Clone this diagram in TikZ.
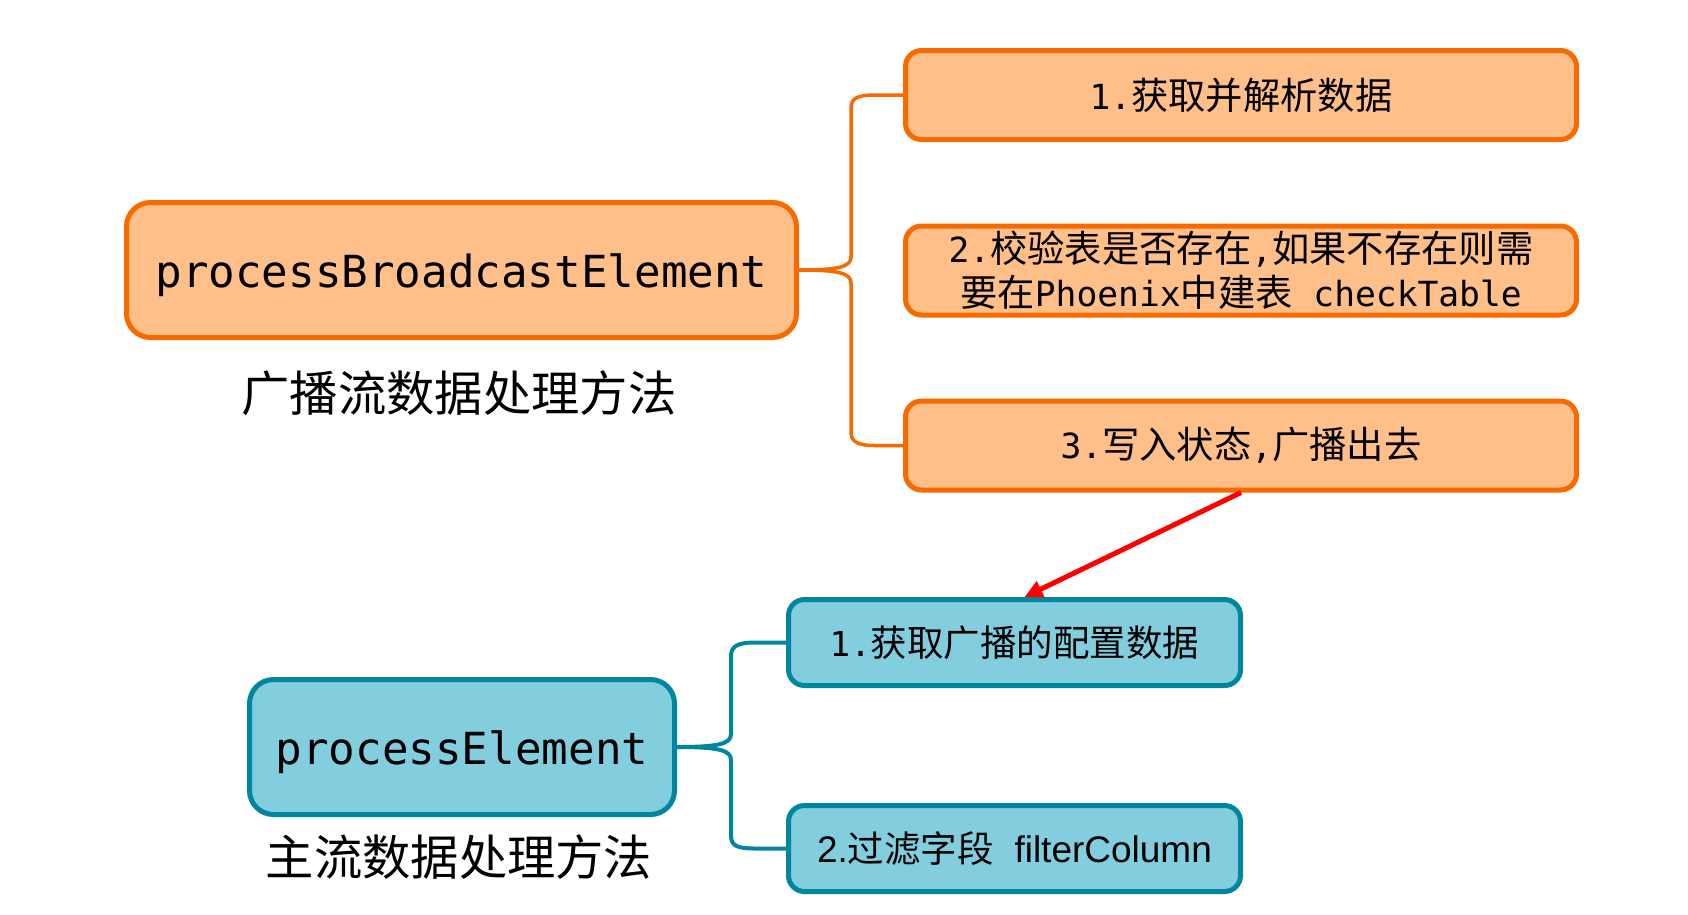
\documentclass[tikz,border=0pt]{standalone}
\usepackage{fontspec}
\setmonofont{DejaVu Sans Mono}
\newfontfamily\cjkfont{Noto Sans CJK SC}
\newfontfamily\arialfont{Liberation Sans}
\usetikzlibrary{arrows.meta,calc}
\definecolor{ofill}{RGB}{255,191,137}
\definecolor{oline}{RGB}{247,106,0}
\definecolor{bfill}{RGB}{130,206,222}
\definecolor{bline}{RGB}{0,134,158}
\definecolor{arrred}{RGB}{255,0,0}
\newcommand\zh[1]{{\fontsize{37.3}{44}\selectfont\cjkfont #1}}
\newcommand\zhb[1]{{\fontsize{36.5}{44}\selectfont\cjkfont #1}}
\begin{document}
\begin{tikzpicture}[x=1pt,y=-1pt,
  obox/.style={draw=oline,fill=ofill,line width=5pt,rounded corners=16pt,
    minimum width=671pt,minimum height=89pt,inner sep=0pt,align=center,
    font=\fontsize{34.6}{44}\selectfont\ttfamily},
  obig/.style={draw=oline,fill=ofill,line width=5pt,rounded corners=24pt,
    minimum width=670pt,minimum height=135pt,inner sep=0pt,
    text height=34pt,text depth=0pt,
    font=\fontsize{44.2}{50}\selectfont\ttfamily},
  bbox/.style={draw=bline,fill=bfill,line width=5pt,rounded corners=16pt,
    minimum width=452pt,minimum height=86pt,inner sep=0pt,align=center,
    font=\fontsize{34.2}{44}\selectfont\ttfamily},
  bbig/.style={draw=bline,fill=bfill,line width=5pt,rounded corners=24pt,
    minimum width=425pt,minimum height=135pt,inner sep=0pt,
    text height=35pt,text depth=0pt,
    font=\fontsize{44.2}{50}\selectfont\ttfamily},
  oconn/.style={draw=oline,line width=3.5pt},
  bconn/.style={draw=bline,line width=4pt},
  caption/.style={inner sep=0pt,font=\fontsize{48.3}{50}\selectfont\cjkfont},
  redarrow/.style={draw=arrred,line width=5pt,-{Triangle[length=18pt,width=17pt]}}
]
\useasboundingbox (0,0) rectangle (1688,914);
\fill[white] (0,0) rectangle (1688,914);

% orange part
\node[obig] (mb) at (461.5,270) {processBroadcastElement};
\node[caption] (cap1) at (459,393) {广播流数据处理方法};
\node[obox] (b1) at (1241,95) {1.\zh{获取并解析数据}};
\node[obox] (b2) at (1241,270.5) {2.\zh{校验表是否存在},\zh{如果不存在则需}\\\zh{要在}Phoenix\zh{中建表}\ checkTable};
\node[obox] (b3) at (1241,445.5) {3.\zh{写入状态},\zh{广播出去}};

\draw[oconn] (mb.east) .. controls (838,270) and (851,267) .. (851,257) -- (851,108)
  .. controls (851,98) and (858,95) .. (875,95) -- (b1.west);
\draw[oconn] (mb.east) .. controls (838,270) and (851,273) .. (851,283) -- (851,432)
  .. controls (851,442) and (858,445.5) .. (875,445.5) -- (b3.west);

% blue part
\node[bbig] (mbb) at (462,747) {processElement};
\node[caption] (cap2) at (459,857) {主流数据处理方法};
\node[bbox] (b4) at (1014.5,642.5) {1.\zhb{获取广播的配置数据}};
\node[bbox,font=\fontsize{37}{44}\selectfont\arialfont] (b5) at (1014.5,848.5) {2.\zhb{过滤字段}\ \ filterColumn};

\draw[bconn] (mbb.east) .. controls (718,747) and (731,744) .. (731,734) -- (731,656)
  .. controls (731,646) and (738,642.5) .. (755,642.5) -- (b4.west);
\draw[bconn] (mbb.east) .. controls (718,747) and (731,750) .. (731,760) -- (731,836)
  .. controls (731,846) and (738,848.5) .. (755,848.5) -- (b5.west);

% red arrow
\draw[redarrow] (b3.south) -- ($(b4.north)+(10,0)$);
\end{tikzpicture}
\end{document}
